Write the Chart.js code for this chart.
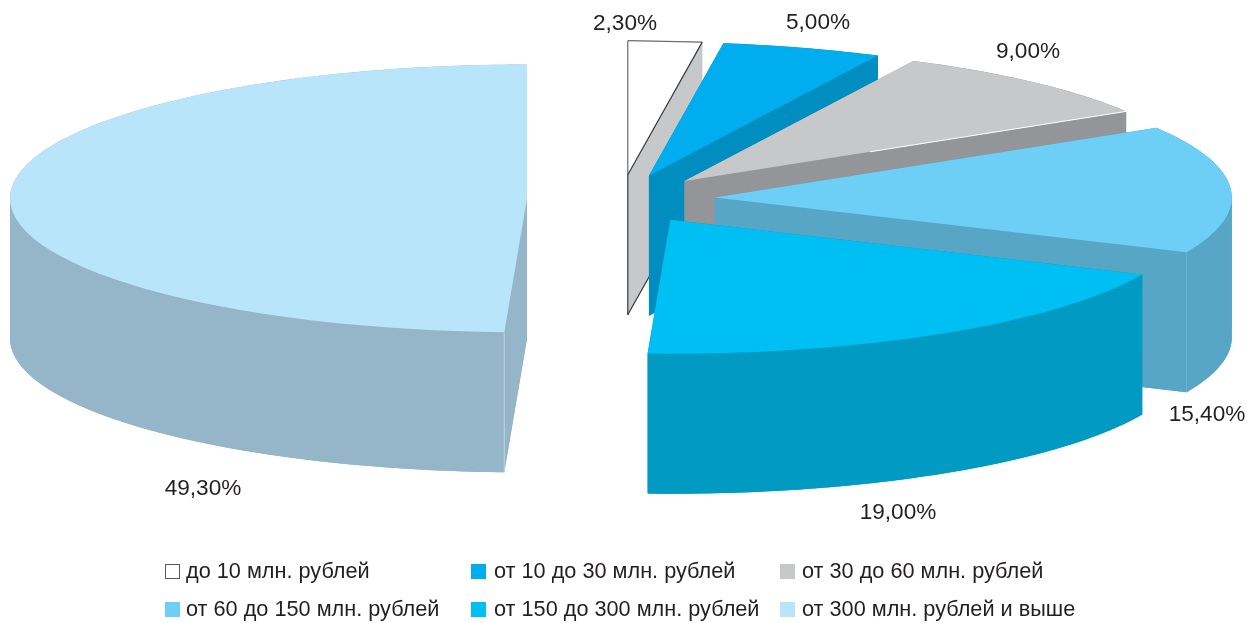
<!DOCTYPE html>
<html>
<head>
<meta charset="utf-8">
<style>html,body{margin:0;padding:0;background:#fff}canvas{display:block}</style>
<script src="https://cdn.jsdelivr.net/npm/chart.js@4/dist/chart.umd.min.js"></script>
</head>
<body>
<canvas id="c" width="1260" height="623"></canvas>
<script>
const categories = ['до 10 млн. рублей','от 10 до 30 млн. рублей','от 30 до 60 млн. рублей','от 60 до 150 млн. рублей','от 150 до 300 млн. рублей','от 300 млн. рублей и выше'];
const shares = [2.3, 5, 9, 15.4, 19, 49.3];
const topColors = ['#ffffff','#00aeef','#c7c8ca','#6dcff6','#00bff3','#b9e5fb'];
const wallColors = ['#c7c8ca','#008dc0','#939598','#58a6c6','#009ac3','#95b5c9'];

const TEXT = '#231f20';
const LABEL_FONT = '22.6px "Liberation Sans", Arial, sans-serif';
const LEGEND_FONT = '21.7px "Liberation Sans", Arial, sans-serif';
const PIE = {cx: 621, cy: 199, rx: 517, ry: 134, depth: 140, explode: 94};
const labelPos = [[625,24],[818,23],[1028,52],[1207,415],[898,513],[203,489]];
const legendCols = [165, 471, 780], legendText = [21, 23, 22], legendRows = [571, 609], legendOrder = [[0,0],[1,0],[2,0],[0,1],[1,1],[2,1]];
const fmt = v => v.toFixed(2).replace('.', ',') + '%';

const pie3d = {
  id: 'pie3d',
  beforeDatasetsDraw(chart) {
    const ctx = chart.ctx, arcs = chart.getDatasetMeta(0).data, k = PIE.ry / PIE.rx;
    const base = arcs[0];
    const place = (dy) => { ctx.setTransform(1,0,0,k,PIE.cx - base.x, PIE.cy + dy - base.y * k); };
    ctx.save();
    arcs.forEach((arc, i) => {
      const {x, y, startAngle: a0, endAngle: a1, outerRadius: r} = arc.getProps(['x','y','startAngle','endAngle','outerRadius']);
      const mid = (a0 + a1) / 2, off = arc.options.offset / 4;
      const ax = x + Math.cos(mid) * off, ay = y + Math.sin(mid) * off;
      const outline = () => { ctx.beginPath(); ctx.moveTo(ax, ay); ctx.arc(ax, ay, r, a0, a1); ctx.closePath(); };
      // screen-space points of this slice
      const S = (px, py, d) => [PIE.cx + px - base.x, PIE.cy + d + (py - base.y) * k];
      const A = (ang, d) => S(ax + Math.cos(ang) * r, ay + Math.sin(ang) * r, d);
      const apex = d => S(ax, ay, d);
      const D = PIE.depth;
      const poly = pts => {
        ctx.setTransform(1,0,0,1,0,0);
        ctx.beginPath();
        pts.forEach((p, n) => n ? ctx.lineTo(p[0], p[1]) : ctx.moveTo(p[0], p[1]));
        ctx.closePath();
        ctx.fill();
      };
      // extruded walls
      ctx.fillStyle = wallColors[i];
      place(D); outline(); ctx.fill();
      poly([apex(0), A(a0,0), A(a0,D), apex(D)]);
      poly([apex(0), A(a1,0), A(a1,D), apex(D)]);
      // outer wall, split where the rim turns back on itself horizontally
      const breaks = [a0];
      for (let m = Math.ceil(a0 / Math.PI); m * Math.PI < a1; m++) if (m * Math.PI > a0) breaks.push(m * Math.PI);
      breaks.push(a1);
      for (let b = 0; b + 1 < breaks.length; b++) {
        const s = breaks[b], e = breaks[b + 1], steps = Math.ceil((e - s) * 60), upper = [], lower = [];
        for (let n = 0; n <= steps; n++) {
          const t = s + (e - s) * n / steps;
          upper.push(A(t, 0)); lower.unshift(A(t, D));
        }
        poly(upper.concat(lower));
      }
      // top face
      place(0);
      outline();
      ctx.fillStyle = arc.options.backgroundColor;
      ctx.fill();
      const line = (p, q, col, w) => {
        ctx.setTransform(1,0,0,1,0,0);
        ctx.beginPath(); ctx.moveTo(p[0], p[1]); ctx.lineTo(q[0], q[1]);
        ctx.strokeStyle = col; ctx.lineWidth = w; ctx.stroke();
      };
      if (i === 0) {
        const c = '#3a3a3c';
        line(apex(0), A(a0,0), '#6d6e71', 1.2);
        line(A(a0,0), A(a1,0), '#6d6e71', 1.2);
        line(A(a1,0), apex(0), c, 1.2);
        line(apex(0), apex(D), c, 1.2);
        line(apex(D), A(a1,D), c, 1.2);
      }
      if (i === 2) { // thin highlight along the front edge of the slice
        const e = A(a1,0), s = apex(0), f = 0.42;
        line([s[0] + (e[0]-s[0])*f, s[1] + (e[1]-s[1])*f], e, '#ffffff', 1);
      }
      if (i === 3) line(A(a1,0), A(a1,D), '#6cb2cf', 1);
      if (i === 5) line(A(a0,0), A(a0,D), '#c0d4e0', 1);
    });
    ctx.restore();
    return false;
  },
  afterDraw(chart) {
    const ctx = chart.ctx;
    ctx.save();
    ctx.setTransform(1,0,0,1,0,0);
    ctx.font = LABEL_FONT; ctx.fillStyle = TEXT; ctx.textBaseline = 'middle';
    ctx.textAlign = 'center';
    shares.forEach((v, i) => ctx.fillText(fmt(v), labelPos[i][0], labelPos[i][1]));
    ctx.font = LEGEND_FONT;
    ctx.textAlign = 'left';
    categories.forEach((name, i) => {
      const [c, r] = legendOrder[i], x = legendCols[c], y = legendRows[r];
      ctx.fillStyle = topColors[i];
      ctx.fillRect(x, y - 7, 15, 15);
      if (i === 0) { ctx.strokeStyle = '#58595b'; ctx.lineWidth = 1; ctx.strokeRect(x + 0.5, y - 6.5, 14, 14); }
      ctx.fillStyle = TEXT;
      ctx.fillText(name, x + legendText[c], y + 1);
    });
    ctx.restore();
  }
};

new Chart(document.getElementById('c'), {
  type: 'pie',
  data: {
    labels: categories,
    datasets: [{
      data: shares,
      backgroundColor: topColors,
      borderWidth: 0,
      offset: PIE.explode * 4,
      clip: false
    }]
  },
  options: {
    responsive: false,
    animation: false,
    radius: PIE.rx,
    layout: {padding: 0},
    plugins: {legend: {display: false}, tooltip: {enabled: false}}
  },
  plugins: [pie3d]
});
</script>
</body>
</html>
